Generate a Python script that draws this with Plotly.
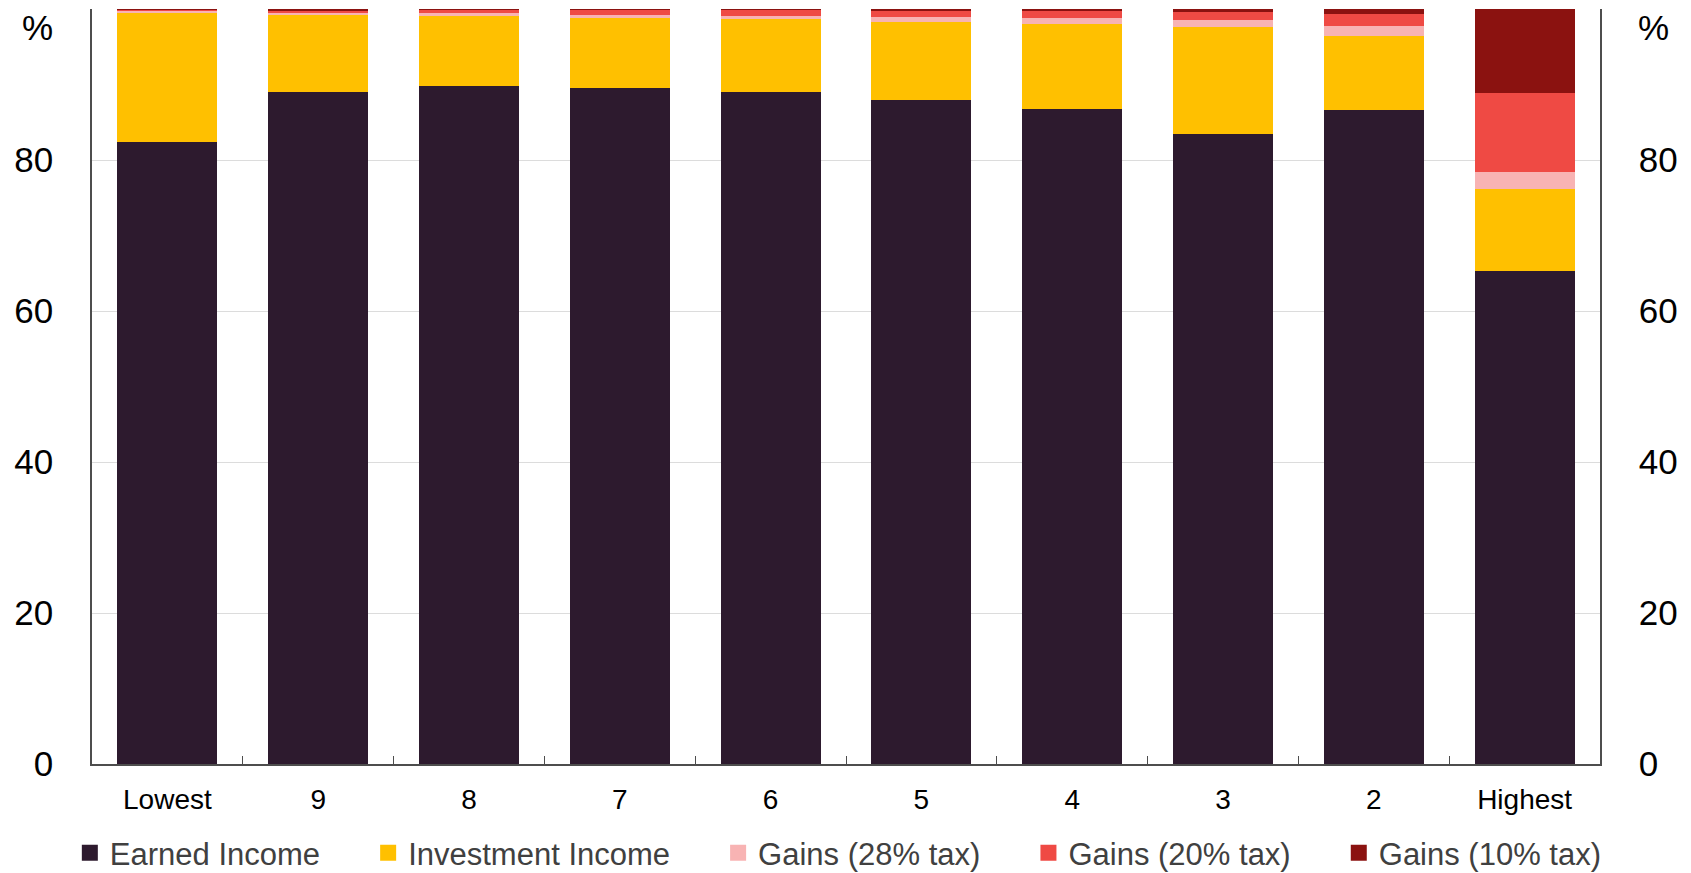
import plotly.graph_objects as go

categories = ["Lowest", "9", "8", "7", "6", "5", "4", "3", "2", "Highest"]
earned = [82.4, 89.05, 89.75, 89.6, 89.0, 88.0, 86.8, 83.4, 86.6, 65.3]
investment = [17.1, 10.15, 9.35, 9.15, 9.7, 10.3, 11.2, 14.2, 9.85, 10.8]
gains28 = [0.25, 0.3, 0.35, 0.45, 0.4, 0.65, 0.75, 0.9, 1.3, 2.35]
gains20 = [0.15, 0.3, 0.45, 0.75, 0.85, 0.75, 1.0, 1.15, 1.6, 10.45]
gains10 = [0.1, 0.2, 0.1, 0.05, 0.05, 0.3, 0.25, 0.35, 0.65, 11.1]

series = [
    ("Earned Income", earned, "#2D1A2E"),
    ("Investment Income", investment, "#FFC000"),
    ("Gains (28% tax)", gains28, "#F8B3B3"),
    ("Gains (20% tax)", gains20, "#EF4A44"),
    ("Gains (10% tax)", gains10, "#8B1210"),
]

yticks = [0, 20, 40, 60, 80, 100]
yticktext = ["0", "20", "40", "60", "80", ""]

FONT = "Arial, Liberation Sans, sans-serif"
PAD = "\u00a0" * 5

fig = go.Figure()
for i, (name, vals, col) in enumerate(series):
    fig.add_trace(go.Bar(
        x=categories, y=vals, name=name, showlegend=False,
        marker=dict(color=col, line=dict(width=0)),
    ))

# legend entries with larger square swatches
for i, (name, vals, col) in enumerate(series):
    fig.add_trace(go.Scatter(
        x=[None], y=[None], mode="markers",
        name=name + (PAD if i < len(series) - 1 else ""),
        marker=dict(symbol="square", size=16, color=col),
        hoverinfo="skip",
    ))

# invisible helper so the right-hand axis is drawn
fig.add_trace(go.Scatter(
    x=categories, y=earned, yaxis="y2", mode="markers",
    marker=dict(opacity=0), showlegend=False, hoverinfo="skip",
))

axis_col = "#4d4d4d"
fig.update_layout(
    width=1691, height=873,
    barmode="stack", bargap=0.337,
    plot_bgcolor="white", paper_bgcolor="white",
    margin=dict(l=92, r=91, t=9, b=109, autoexpand=False),
    font=dict(family=FONT, color="black"),
    showlegend=True,
    legend=dict(
        orientation="h", x=-0.0147, xanchor="left", y=-0.0823, yanchor="top",
        traceorder="normal", font=dict(size=31, color="#404040", family=FONT),
        itemclick=False, bgcolor="rgba(0,0,0,0)",
    ),
    xaxis=dict(
        type="category", range=[-0.5, 9.5],
        showline=True, linecolor=axis_col, linewidth=1.5,
        ticks="inside", ticklen=8, tickcolor=axis_col, tickwidth=1,
        tickson="boundaries",
        tickfont=dict(size=28, color="black"),
        ticklabelstandoff=10,
        showgrid=False, zeroline=False,
    ),
    yaxis=dict(
        range=[0, 100], tickvals=yticks, ticktext=yticktext,
        showline=True, linecolor=axis_col, linewidth=1.5,
        ticks="", showgrid=True, gridcolor="#dcdcdc", gridwidth=1,
        zeroline=False, tickfont=dict(size=35, color="black"),
        ticklabelstandoff=30,
    ),
    yaxis2=dict(
        range=[0, 100], tickvals=yticks, ticktext=yticktext,
        overlaying="y", side="right", anchor="x",
        showline=True, linecolor=axis_col, linewidth=1.5,
        ticks="", showgrid=False, zeroline=False,
        tickfont=dict(size=35, color="black"),
        ticklabelstandoff=30,
    ),
)

for xp in (-0.036, 1.0355):
    fig.add_annotation(
        x=xp, y=0.976, xref="paper", yref="paper", text="%", showarrow=False,
        xanchor="center", yanchor="middle", font=dict(size=35, color="black", family=FONT),
    )

fig.write_html(
    "out.html",
    config={"displayModeBar": False},
    post_script="document.body.style.margin='0px';document.body.style.overflow='hidden';",
)
